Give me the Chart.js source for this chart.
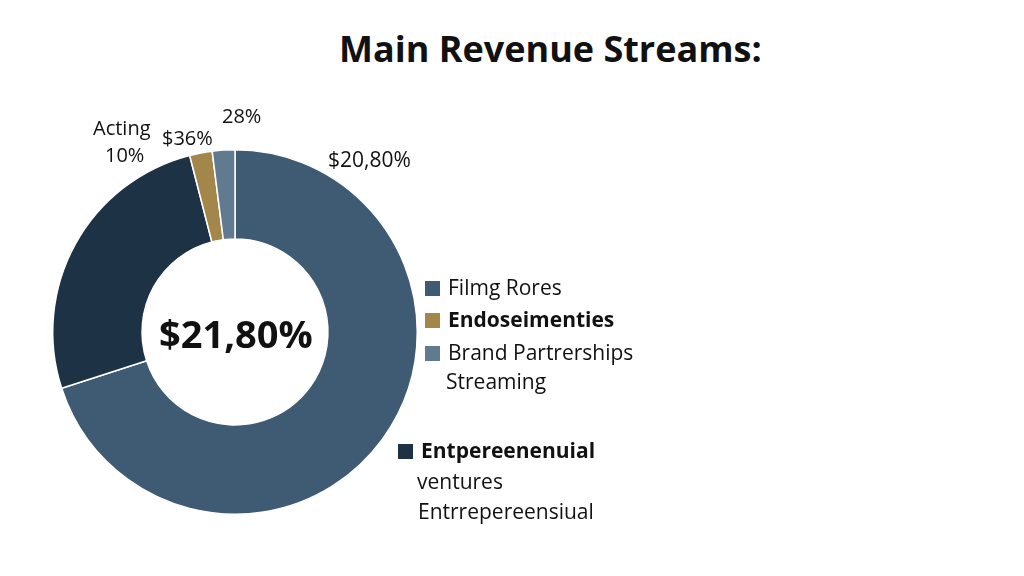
<!DOCTYPE html>
<html><head><meta charset="utf-8">
<script src="https://cdn.jsdelivr.net/npm/chart.js@4"></script>
<style>
body{margin:0;width:1024px;height:576px;background:#fff;font-family:"Open Sans","Noto Sans",sans-serif;position:relative;overflow:hidden;color:#111}
#wrap{position:absolute;left:0;top:0;width:470px;height:576px}
.t{position:absolute;white-space:nowrap}
.lg{position:absolute;font-size:21px;white-space:nowrap}
.sq{display:inline-block;width:15px;height:15px;margin-right:8px;vertical-align:-1px}
</style></head><body>
<div class="t" style="left:339px;top:24px;font-size:36px;font-weight:bold;font-family:'Open Sans'">Main Revenue Streams:</div>
<div id="wrap"><canvas id="c"></canvas></div>
<div class="t" style="left:93px;top:114px;font-size:20px">Acting</div>
<div class="t" style="left:105px;top:141px;font-size:20px">10%</div>
<div class="t" style="left:162px;top:124px;font-size:20px">$36%</div>
<div class="t" style="left:222px;top:102px;font-size:20px">28%</div>
<div class="t" style="left:328px;top:145px;font-size:21px">$20,80%</div>
<div class="t" style="left:159px;top:307px;font-size:38px;font-weight:bold">$21,80%</div>
<div class="lg" style="left:425px;top:273px"><span class="sq" style="background:#3f5a73"></span>Filmg Rores</div>
<div class="lg" style="left:425px;top:305px;font-weight:bold"><span class="sq" style="background:#a3874a"></span>Endoseimenties</div>
<div class="lg" style="left:425px;top:338px"><span class="sq" style="background:#607a8f"></span>Brand Partrerships</div>
<div class="lg" style="left:446px;top:367px">Streaming</div>
<div class="lg" style="left:398px;top:436px;font-weight:bold"><span class="sq" style="background:#1e3246"></span>Entpereenenuial</div>
<div class="lg" style="left:417px;top:467px">ventures</div>
<div class="lg" style="left:418px;top:497px">Entrrepereensiual</div>
<script>
const categories=["Film Roles","Entrepreneurial ventures","Endorsements","Brand Partnerships"];
const values=[70,26,2,2];
const colors=["#3f5a73","#1e3246","#a3874a","#607a8f"];
new Chart(document.getElementById('c'),{type:'doughnut',
data:{labels:categories,datasets:[{data:values,backgroundColor:colors,borderColor:'#fff',borderWidth:1.5}]},
options:{responsive:true,maintainAspectRatio:false,animation:false,cutout:'51%',
layout:{padding:{top:149,bottom:61,left:0,right:0}},
plugins:{legend:{display:false},tooltip:{enabled:false}}}});
</script>
</body></html>
